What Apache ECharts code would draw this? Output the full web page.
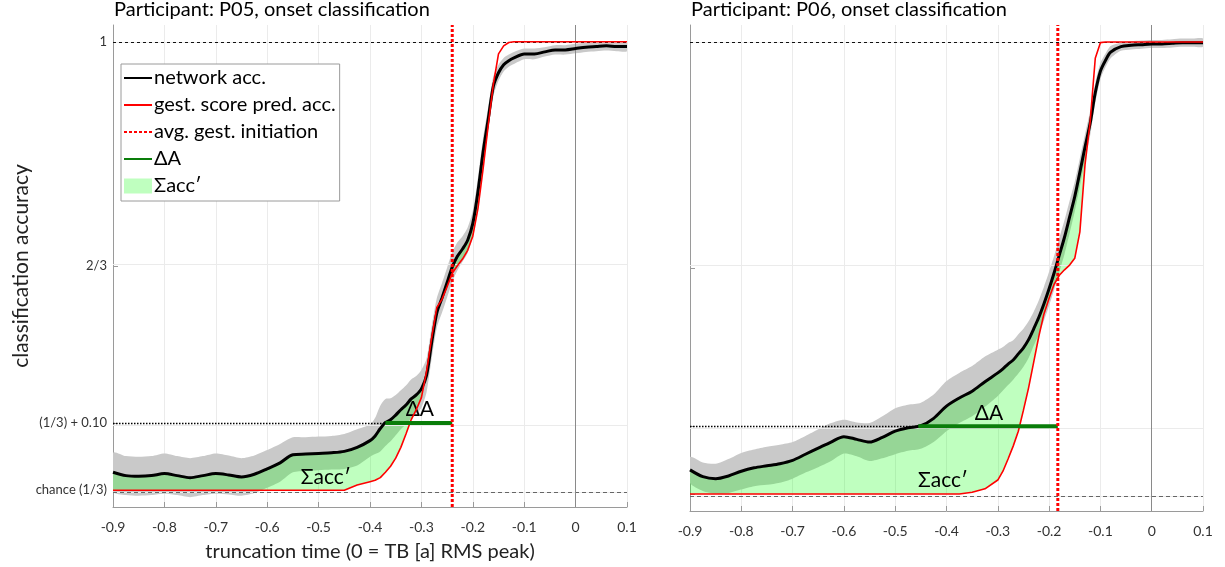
<!DOCTYPE html>
<html>
<head>
<meta charset="utf-8">
<script src="https://cdn.jsdelivr.net/npm/echarts@6/dist/echarts.min.js"></script>
<style>
  html, body { margin: 0; padding: 0; background: #fff; }
  #chart { width: 1225px; height: 567px; }
</style>
</head>
<body>
<div id="chart"></div>
<script>
// ---- reference levels -------------------------------------------------
const CHANCE = 1 / 3;
const THRESH = 1 / 3 + 0.10;
const Y_MIN = CHANCE - 0.025;
const Y_MAX = 1.025;
const Y_TICKS = [CHANCE, THRESH, 2 / 3, 1];
const Y_TICK_LABELS = ['chance (1/3)', '(1/3) + 0.10', '2/3', '1'];

// ---- participant P05 -------------------------------------------------
const X_P05 = [-0.9, -0.875, -0.85, -0.825, -0.8, -0.775, -0.75, -0.725, -0.7, -0.675, -0.65, -0.625, -0.6, -0.575, -0.55, -0.525, -0.5, -0.475, -0.45, -0.425, -0.4,
  -0.39, -0.38, -0.37, -0.36, -0.35, -0.34, -0.33, -0.32, -0.31, -0.3, -0.29, -0.28, -0.27, -0.26, -0.25, -0.24, -0.23, -0.22, -0.21, -0.2, -0.19, -0.18, -0.17, -0.16, -0.15, -0.14, -0.13, -0.12,
  -0.1, -0.08, -0.06, -0.04, -0.02, 0, 0.02, 0.04, 0.06, 0.08, 0.1];
const NET_P05 = [0.360, 0.355, 0.354, 0.355, 0.358, 0.355, 0.352, 0.355, 0.358, 0.356, 0.353, 0.357, 0.365, 0.374, 0.386, 0.387, 0.388, 0.389, 0.391, 0.397, 0.407,
  0.414, 0.425, 0.434, 0.438, 0.445, 0.453, 0.460, 0.469, 0.475, 0.484, 0.504, 0.553, 0.597, 0.619, 0.642, 0.665, 0.681, 0.692, 0.705, 0.730, 0.777, 0.836, 0.885, 0.934, 0.954, 0.966, 0.972, 0.976,
  0.982, 0.982, 0.985, 0.988, 0.988, 0.990, 0.992, 0.993, 0.994, 0.993, 0.993];
const SD_P05 = [0.029, 0.029, 0.029, 0.029, 0.030, 0.029, 0.029, 0.029, 0.030, 0.029, 0.028, 0.028, 0.028, 0.028, 0.026, 0.025, 0.025, 0.025, 0.026, 0.027, 0.024,
  0.027, 0.034, 0.035, 0.032, 0.030, 0.029, 0.029, 0.029, 0.028, 0.028, 0.025, 0.024, 0.022, 0.022, 0.022, 0.022, 0.021, 0.019, 0.019, 0.019, 0.021, 0.021, 0.018, 0.015, 0.012, 0.010, 0.009, 0.009,
  0.008, 0.008, 0.007, 0.007, 0.007, 0.007, 0.007, 0.007, 0.007, 0.007, 0.007];
const GEST_P05 = [0.3333, 0.3333, 0.3333, 0.3333, 0.3333, 0.3333, 0.3333, 0.3333, 0.3333, 0.3333, 0.3333, 0.3333, 0.3333, 0.3333, 0.3333, 0.3333, 0.3333, 0.3333, 0.3333, 0.341, 0.346,
  0.348, 0.352, 0.360, 0.369, 0.381, 0.397, 0.417, 0.438, 0.453, 0.471, 0.510, 0.560, 0.605, 0.617, 0.636, 0.656, 0.667, 0.677, 0.690, 0.711, 0.752, 0.811, 0.876, 0.937, 0.982, 0.994, 0.999, 1,
  1, 1, 1, 1, 1, 1, 1, 1, 1, 1, 1];
const CROSS_P05 = -0.37;   // network accuracy reaches chance + 0.10
const INIT_P05 = -0.24;    // average gesture initiation

// ---- participant P06 -------------------------------------------------
const X_P06 = [-0.9, -0.875, -0.85, -0.825, -0.8, -0.775, -0.75, -0.725, -0.7, -0.675, -0.65, -0.625, -0.6, -0.575, -0.55, -0.525, -0.5, -0.475, -0.45, -0.425, -0.4, -0.375, -0.35, -0.325, -0.3,
  -0.29, -0.28, -0.27, -0.26, -0.25, -0.24, -0.23, -0.22, -0.21, -0.2, -0.19, -0.18, -0.17, -0.16, -0.15, -0.14, -0.13, -0.12, -0.11, -0.1, -0.09, -0.08,
  -0.06, -0.04, -0.02, 0, 0.02, 0.04, 0.06, 0.08, 0.1];
const NET_P06 = [0.369, 0.359, 0.356, 0.360, 0.367, 0.372, 0.375, 0.378, 0.383, 0.392, 0.401, 0.410, 0.418, 0.414, 0.410, 0.417, 0.426, 0.431, 0.434, 0.445, 0.463, 0.475, 0.485, 0.499, 0.512,
  0.518, 0.525, 0.531, 0.540, 0.549, 0.561, 0.577, 0.594, 0.614, 0.636, 0.660, 0.686, 0.712, 0.742, 0.772, 0.808, 0.845, 0.880, 0.925, 0.957, 0.973, 0.985,
  0.993, 0.995, 0.996, 0.997, 0.997, 0.998, 0.999, 0.999, 0.999];
const SD_P06 = [0.019, 0.021, 0.022, 0.025, 0.027, 0.027, 0.028, 0.028, 0.027, 0.027, 0.028, 0.028, 0.025, 0.025, 0.028, 0.031, 0.034, 0.034, 0.034, 0.035, 0.037, 0.037, 0.037, 0.037, 0.034,
  0.032, 0.031, 0.029, 0.029, 0.028, 0.027, 0.025, 0.025, 0.025, 0.025, 0.025, 0.025, 0.025, 0.024, 0.022, 0.021, 0.019, 0.018, 0.015, 0.012, 0.010, 0.009,
  0.006, 0.006, 0.006, 0.006, 0.006, 0.006, 0.006, 0.006, 0.006];
const GEST_P06 = [0.3333, 0.3333, 0.3333, 0.3333, 0.3333, 0.3333, 0.3333, 0.3333, 0.3333, 0.3333, 0.3333, 0.3333, 0.3333, 0.3333, 0.3333, 0.3333, 0.3333, 0.3333, 0.3333, 0.3333, 0.3333, 0.3333, 0.336, 0.341, 0.354,
  0.367, 0.385, 0.404, 0.426, 0.457, 0.490, 0.528, 0.566, 0.599, 0.622, 0.643, 0.656, 0.664, 0.671, 0.681, 0.720, 0.819, 0.882, 0.976, 0.999, 1, 1,
  1, 1, 1, 1, 1, 1, 1, 1, 1];
const CROSS_P06 = -0.455;
const INIT_P06 = -0.183;

// ---- annotation anchors (data coords) -----------------------------------
const DELTA_LABEL = [[-0.303, 0.454], [-0.317, 0.453]];
const SIGMA_LABEL = [[-0.486, 0.352], [-0.407, 0.354]];

const FONT = 'Lato, "Open Sans", sans-serif';
const GREEN_FILL = 'rgba(0,255,0,0.25)';
const BAND_GREY = '#c9c9c9';

// filled region between an upper and a lower curve, mapped through the axes
function regionSeries(p, name, xs, upper, lower, fill, z, smooth) {
  return {
    type: 'custom', name, xAxisIndex: p, yAxisIndex: p, z, silent: true, clip: true,
    data: [[xs[0], lower[0]]],
    renderItem: (params, api) => {
      const top = xs.map((x, i) => api.coord([x, upper[i]]));
      const bottom = xs.map((x, i) => api.coord([x, lower[i]])).reverse();
      return {
        type: 'polygon',
        shape: { points: top.concat(bottom), smooth },
        style: { fill, stroke: null }
      };
    }
  };
}

function panelSeries(p, xs, net, sd, gest, cross, init) {
  const ax = { xAxisIndex: p, yAxisIndex: p };
  const pts = arr => xs.map((x, i) => [x, arr[i]]);
  const netHi = net.map((v, i) => v + sd[i]);
  const netLo = net.map((v, i) => v - sd[i]);
  const fillTop = net.map((v, i) => Math.max(v, gest[i]));
  return [
    // light grid lines at the labelled accuracy levels
    Object.assign({
      type: 'line', name: 'grid' + p, data: [], silent: true, z: 0,
      markLine: {
        silent: true, symbol: 'none', label: { show: false }, animation: false,
        lineStyle: { color: '#ebebeb', width: 1, type: 'solid' },
        data: Y_TICKS.map(v => ({ yAxis: v }))
      }
    }, ax),
    // spread band around network accuracy
    regionSeries(p, 'band' + p, xs, netHi, netLo, BAND_GREY, 1, 0.25),
    // area where the network beats the gesture-score predictor
    regionSeries(p, 'Σacc′', xs, fillTop, gest, GREEN_FILL, 2, 0),
    // reference lines
    Object.assign({
      type: 'line', name: 'refs' + p, data: [], silent: true, z: 3,
      markLine: {
        silent: true, symbol: 'none', label: { show: false }, animation: false,
        data: [
          { yAxis: 1, lineStyle: { color: '#111', width: 1, type: [3, 3] } },
          { yAxis: CHANCE, lineStyle: { color: '#666', width: 1.2, type: [4, 3] } },
          { xAxis: 0, lineStyle: { color: '#8a8a8a', width: 1, type: 'solid' } },
          [{ coord: [-0.9, THRESH], lineStyle: { color: '#000', width: 1.4, type: [1.5, 1.5] } }, { coord: [cross, THRESH] }]
        ]
      }
    }, ax),
    Object.assign({
      type: 'line', name: 'network acc.', symbol: 'none', smooth: 0.3, z: 5,
      color: '#000', lineStyle: { color: '#000', width: 3 },
      data: pts(net)
    }, ax),
    Object.assign({
      type: 'line', name: 'gest. score pred. acc.', symbol: 'none', z: 6,
      color: '#ff0000', lineStyle: { color: '#ff0000', width: 1.6 },
      data: pts(gest)
    }, ax),
    Object.assign({
      type: 'line', name: 'ΔA', symbol: 'none', z: 7,
      color: '#0a7d0a', lineStyle: { color: '#0a7d0a', width: 4 },
      data: [[cross, THRESH], [init, THRESH]],
      markPoint: {
        symbol: 'rect', symbolSize: 0, silent: true, animation: false,
        label: { show: true, position: 'inside', fontFamily: FONT, fontSize: 21, color: '#000' },
        data: [
          { coord: DELTA_LABEL[p], label: { formatter: 'ΔA' } },
          { coord: SIGMA_LABEL[p], label: { formatter: 'Σacc′' } }
        ]
      }
    }, ax),
    Object.assign({
      type: 'line', name: 'avg. gest. initiation', symbol: 'none', z: 8,
      color: '#ff0000', lineStyle: { color: '#ff0000', width: 3, type: [3, 2] },
      data: [[init, Y_MIN], [init, Y_MAX]]
    }, ax)
  ];
}

function xAxisFor(p) {
  return {
    type: 'value', gridIndex: p, min: -0.9, max: 0.1, interval: 0.1,
    name: p === 0 ? 'truncation time (0 = TB [a] RMS peak)' : '',
    nameLocation: 'middle', nameGap: 35,
    nameTextStyle: { fontFamily: FONT, fontSize: 20, color: '#222' },
    axisLine: { onZero: false, lineStyle: { color: '#9a9a9a', width: 1 } },
    axisTick: { inside: true, length: 5, lineStyle: { color: '#9a9a9a' } },
    axisLabel: { fontFamily: FONT, fontSize: 14, color: '#333', margin: 13 },
    splitLine: { show: true, lineStyle: { color: '#ebebeb', width: 1 } }
  };
}

function yAxisFor(p) {
  return {
    type: 'value', gridIndex: p, min: Y_MIN, max: Y_MAX,
    name: p === 0 ? 'classification accuracy' : '',
    nameLocation: 'middle', nameGap: 80, nameRotate: 90,
    nameTextStyle: { fontFamily: FONT, fontSize: 21, color: '#222' },
    axisLine: { show: true, onZero: false, lineStyle: { color: '#9a9a9a', width: 1 } },
    axisTick: { show: true, inside: true, length: 5, customValues: Y_TICKS, lineStyle: { color: '#9a9a9a' } },
    axisLabel: {
      show: p === 0, customValues: Y_TICKS, fontFamily: FONT, fontSize: 13, color: '#333', margin: 6,
      formatter: v => {
        const i = Y_TICKS.findIndex(t => Math.abs(t - v) < 1e-6);
        return i >= 0 ? Y_TICK_LABELS[i] : '';
      }
    },
    splitLine: { show: false }
  };
}

const chart = echarts.init(document.getElementById('chart'), null, { renderer: 'canvas' });
chart.setOption({
  animation: false,
  backgroundColor: '#fff',
  textStyle: { fontFamily: FONT },
  title: [
    { text: 'Participant: P05, onset classification', left: 114, top: 0, padding: 0,
      textStyle: { fontFamily: FONT, fontSize: 20, fontWeight: 'normal', color: '#000' } },
    { text: 'Participant: P06, onset classification', left: 691, top: 0, padding: 0,
      textStyle: { fontFamily: FONT, fontSize: 20, fontWeight: 'normal', color: '#000' } }
  ],
  grid: [
    { left: 113, top: 25, width: 514, height: 486 },
    { left: 690, top: 25, width: 513, height: 486 }
  ],
  xAxis: [xAxisFor(0), xAxisFor(1)],
  yAxis: [yAxisFor(0), yAxisFor(1)],
  legend: {
    orient: 'vertical', left: 121, top: 64, z: 20,
    selectedMode: false,
    backgroundColor: '#fff', borderColor: '#9a9a9a', borderWidth: 1, borderRadius: 0,
    padding: [4, 4, 5, 2], itemGap: 7, itemWidth: 28, itemHeight: 15,
    itemStyle: { opacity: 0 },
    textStyle: { fontFamily: FONT, fontSize: 20, color: '#000', padding: [0, 0, 0, -3] },
    data: [
      { name: 'network acc.' },
      { name: 'gest. score pred. acc.' },
      { name: 'avg. gest. initiation' },
      { name: 'ΔA' },
      { name: 'Σacc′', icon: 'rect', itemStyle: { color: '#bfffbf', opacity: 1 } }
    ]
  },
  series: [
    ...panelSeries(0, X_P05, NET_P05, SD_P05, GEST_P05, CROSS_P05, INIT_P05),
    ...panelSeries(1, X_P06, NET_P06, SD_P06, GEST_P06, CROSS_P06, INIT_P06)
  ]
});
</script>
</body>
</html>
